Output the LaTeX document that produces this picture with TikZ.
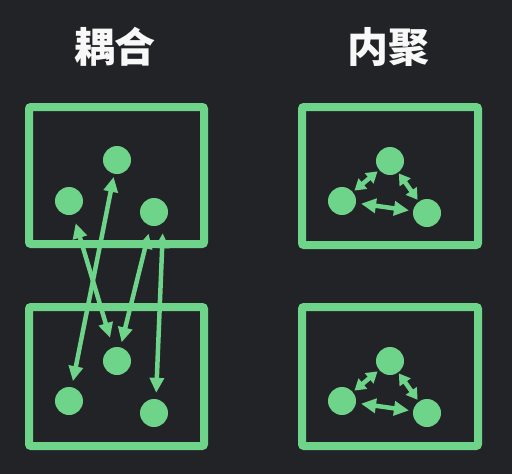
\documentclass[tikz,border=0pt]{standalone}
\usepackage{fontspec}
\newfontfamily\cjk{Noto Sans CJK SC}
\usetikzlibrary{arrows.meta}
\definecolor{bg}{RGB}{34,35,39}
\definecolor{gr}{RGB}{110,212,137}
\definecolor{tx}{RGB}{248,248,248}
\tikzset{
  panel/.style={draw=gr,line width=8pt,rounded corners=2pt},
  dot/.style={circle,fill=gr,minimum size=28pt,inner sep=0pt},
  link/.style={draw=gr,line width=4.5pt,{Triangle[length=15pt,width=14pt]}-{Triangle[length=15pt,width=14pt]}},
  shortlink/.style={draw=gr,line width=4.5pt,{Triangle[length=11pt,width=13pt]}-{Triangle[length=11pt,width=13pt]}},
  title/.style={text=tx,font=\cjk\bfseries\fontsize{41pt}{45pt}\selectfont,inner sep=0pt}
}
\begin{document}
\begin{tikzpicture}[x=1pt,y=-1pt]
\fill[bg] (0,0) rectangle (512,474);
\useasboundingbox (0,0) rectangle (512,474);
\node[title] (t1) at (115,47) {耦合};
\node[title] (t2) at (388,47) {内聚};
% panels
\draw[panel] (29,107) rectangle (204,244);
\draw[panel] (29,307) rectangle (204,446);
\draw[panel] (302,107) rectangle (478,245);
\draw[panel] (302,307) rectangle (478,446);
% coupling nodes
\node[dot] (a1) at (117,160) {};
\node[dot] (a2) at (69,201) {};
\node[dot] (a3) at (154,212) {};
\node[dot] (b1) at (117,361) {};
\node[dot] (b2) at (69,401) {};
\node[dot] (b3) at (154,413) {};
\draw[link,shorten <=3pt,shorten >=6pt] (a1) -- (b2);
\draw[link,shorten <=9pt,shorten >=10pt] (a2) -- (b1);
\draw[link,shorten <=8pt,shorten >=5pt] (a3) -- (b1);
\draw[link,shorten <=7pt,shorten >=6pt] ([xshift=9pt]a3.south) -- ([xshift=2pt]b3.north);
% cohesion nodes
\node[dot] (c1) at (390,161) {};
\node[dot] (c2) at (342,201) {};
\node[dot] (c3) at (427,213) {};
\node[dot] (d1) at (390,361) {};
\node[dot] (d2) at (342,401) {};
\node[dot] (d3) at (427,413) {};
\draw[shortlink,shorten <=2pt,shorten >=2pt] (c2) -- (c1);
\draw[shortlink,shorten <=1pt,shorten >=2pt] (c1) -- (c3);
\draw[link,shorten <=5pt,shorten >=4pt] (c2) -- (c3);
\draw[shortlink,shorten <=2pt,shorten >=2pt] (d2) -- (d1);
\draw[shortlink,shorten <=1pt,shorten >=2pt] (d1) -- (d3);
\draw[link,shorten <=5pt,shorten >=4pt] (d2) -- (d3);
\end{tikzpicture}
\end{document}
